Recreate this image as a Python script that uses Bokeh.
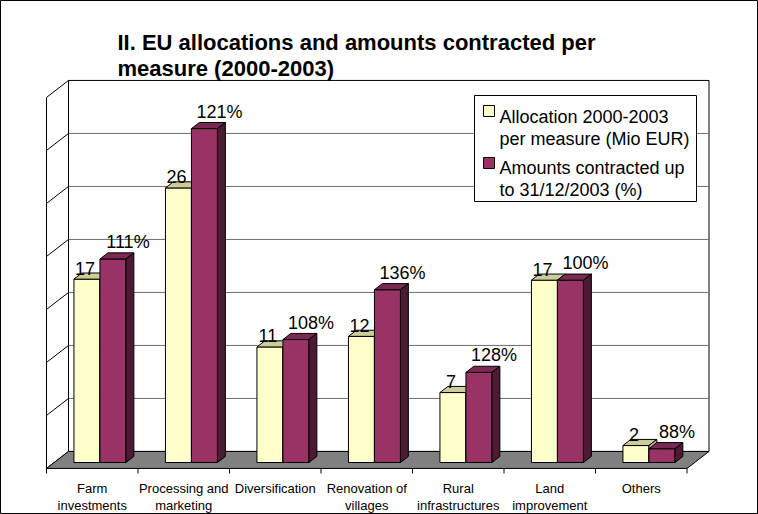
from bokeh.plotting import figure
from bokeh.models import Range1d
from bokeh.core.properties import value
from bokeh.embed import file_html
from bokeh.resources import INLINE

# ---------------- data ----------------
cat_line1 = ["Farm", "Processing and", "Diversification", "Renovation of", "Rural", "Land", "Others"]
cat_line2 = ["investments", "marketing", "", "villages", "infrastructures", "improvement", ""]
allocation = [17.3, 25.9, 10.9, 11.9, 6.6, 17.2, 1.6]          # Mio EUR (bar heights)
allocation_labels = ["17", "26", "11", "12", "7", "17", "2"]
contracted = [19.2, 31.5, 11.6, 16.3, 8.5, 17.2, 1.3]          # Mio EUR contracted (bar heights)
contracted_labels = ["111%", "121%", "108%", "136%", "128%", "100%", "88%"]
grid_values = [5, 10, 15, 20, 25, 30]
y_max = 35
title_lines = ["II. EU allocations and amounts contracted per", "measure (2000-2003)"]
legend_lines = [["Allocation 2000-2003", "per measure (Mio EUR)"],
                ["Amounts contracted up", "to 31/12/2003 (%)"]]

# ---------------- layout (image px) ----------------
W, H, M = 758, 514, 0
PXX, PXY = 91.5, 10.6          # px per category / per unit
OX, OY = 53.7, 462.0           # image px of X=0,Y=0 in bar front plane
DXU, DYU = 22 / PXX, 17 / PXY  # full floor depth in data units
DB = 0.35                      # bar front depth fraction
DBB = DB + 0.36                # bar back depth fraction
BW = 26 / PXX                  # bar width

def ix(px):
    return (px - OX) / PXX

def iy(py):
    return (OY - py) / PXY

def proj(X, Y, D):
    return X + (D - DB) * DXU, Y + (D - DB) * DYU

FONT = value("Liberation Sans")

p = figure(width=W, height=H, min_border=0, x_axis_location=None, y_axis_location=None,
           toolbar_location=None, output_backend="svg",
           x_range=Range1d(ix(M), ix(M + W)), y_range=Range1d(iy(M + H), iy(M)))
p.grid.visible = False
p.outline_line_color = "black"
p.outline_line_width = 1
p.background_fill_color = "white"
p.border_fill_color = "white"

n = len(cat_line1)

def poly(pts):
    xs, ys = zip(*[proj(*q) for q in pts])
    return list(xs), list(ys)

# walls and floor
wxs, wys, wcol = [], [], []
for pts, col in [
    ([(0, 0, 1), (n, 0, 1), (n, y_max, 1), (0, y_max, 1)], "white"),
    ([(0, 0, 0), (0, 0, 1), (0, y_max, 1), (0, y_max, 0)], "white"),
    ([(0, 0, 0), (n, 0, 0), (n, 0, 1), (0, 0, 1)], "#808080"),
]:
    a, b = poly(pts)
    wxs.append(a); wys.append(b); wcol.append(col)
p.patches(wxs, wys, fill_color=wcol, line_color="black", line_width=1)

# gridlines
gx, gy, lx, ly = [], [], [], []
for v in grid_values:
    a, b = poly([(0, v, 1), (n, v, 1)])
    gx.append(a); gy.append(b)
    a, b = poly([(0, v, 0), (0, v, 1)])
    lx.append(a); ly.append(b)
p.multi_line(gx, gy, line_color="#6e6e6e", line_width=1)
p.multi_line(lx, ly, line_color="black", line_width=1)

# ticks on the floor front edge
tx, ty = [], []
for i in range(n + 1):
    x0, y0 = proj(i, 0, 0)
    tx.append([x0, x0]); ty.append([y0, y0 - 5 / PXY])
p.multi_line(tx, ty, line_color="black", line_width=1)

# bars
styles = [("#FFFFCC", "#CCCC99", "#B3B38F"), ("#993366", "#7A2952", "#4D1933")]
bxs, bys, bcol = [], [], []
for i in range(n):
    c = i + 0.5
    for s, (h, (fc, tc, sc)) in enumerate(zip([allocation[i], contracted[i]], styles)):
        x0 = c - BW if s == 0 else c
        x1 = x0 + BW
        for pts, col in [
            ([(x0, 0, DB), (x1, 0, DB), (x1, h, DB), (x0, h, DB)], fc),
            ([(x0, h, DB), (x1, h, DB), (x1, h, DBB), (x0, h, DBB)], tc),
            ([(x1, 0, DB), (x1, 0, DBB), (x1, h, DBB), (x1, h, DB)], sc),
        ]:
            a, b = poly(pts)
            bxs.append(a); bys.append(b); bcol.append(col)
p.patches(bxs, bys, fill_color=bcol, line_color="black", line_width=1)

# data labels
p.text(x=[i + 0.5 - BW / 2 - 2 / PXX for i in range(n)],
       y=[h + 11 / PXY for h in allocation], text=allocation_labels,
       text_font=FONT, text_font_size="18px", text_align="center",
       text_baseline="alphabetic", text_color="black")
p.text(x=[i + 0.5 + BW / 2 + 15 / PXX for i in range(n)],
       y=[h + 17 / PXY for h in contracted], text=contracted_labels,
       text_font=FONT, text_font_size="18px", text_align="center",
       text_baseline="alphabetic", text_color="black")

# category labels
cx = [proj(i + 0.5, 0, 0)[0] for i in range(n)]
p.text(x=cx, y=[iy(488)] * n, text=cat_line1, text_font=FONT, text_font_size="13px",
       text_align="center", text_baseline="alphabetic", text_color="black")
p.text(x=cx, y=[iy(505)] * n, text=cat_line2, text_font=FONT, text_font_size="13px",
       text_align="center", text_baseline="alphabetic", text_color="black")

# title
p.text(x=[ix(117)] * 2, y=[iy(42), iy(68)], text=title_lines, text_font=FONT,
       text_font_size="22px", text_font_style="bold", text_align="left",
       text_baseline="alphabetic", text_color="black")

# legend
p.quad(left=[ix(474)], right=[ix(696)], top=[iy(95)], bottom=[iy(201)],
       fill_color="white", line_color="black", line_width=1)
p.quad(left=[ix(483), ix(483)], right=[ix(494), ix(494)],
       top=[iy(105), iy(157)], bottom=[iy(116), iy(168)],
       fill_color=[styles[0][0], styles[1][0]], line_color="black", line_width=1)
p.text(x=[ix(499)] * 4, y=[iy(116), iy(138), iy(167), iy(189)],
       text=[legend_lines[0][0], legend_lines[0][1], legend_lines[1][0], legend_lines[1][1]],
       text_font=FONT, text_font_size="18px", text_align="left",
       text_baseline="alphabetic", text_color="black")

open("out.html", "w").write(file_html(p, INLINE))
